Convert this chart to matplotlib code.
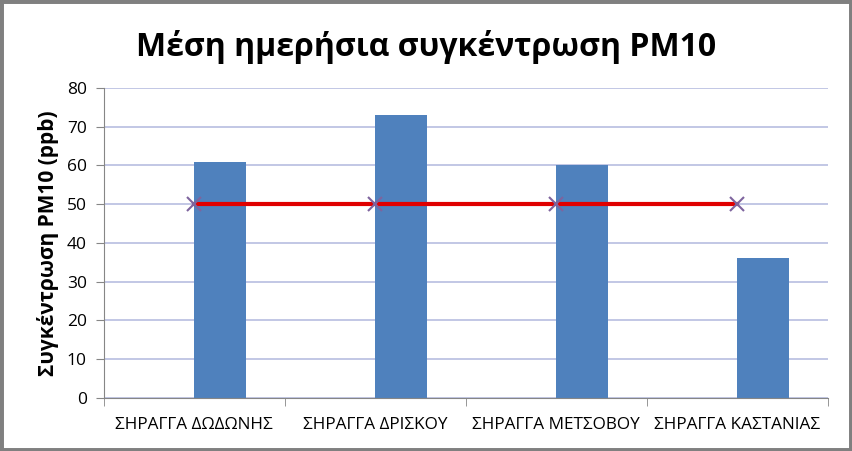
import numpy as np
import matplotlib.pyplot as plt
from matplotlib.patches import Rectangle

plt.rcParams['font.family'] = ['Open Sans', 'DejaVu Sans']

categories = ["ΣΗΡΑΓΓΑ ΔΩΔΩΝΗΣ", "ΣΗΡΑΓΓΑ ΔΡΙΣΚΟΥ", "ΣΗΡΑΓΓΑ ΜΕΤΣΟΒΟΥ", "ΣΗΡΑΓΓΑ ΚΑΣΤΑΝΙΑΣ"]
concentration = [61, 73, 60, 36]
limit = [50, 50, 50, 50]

fig = plt.figure(figsize=(8.52, 4.51), dpi=100)
ax = fig.add_axes([0.1215, 0.1175, 0.85, 0.6875])

x = np.arange(len(categories))
ax.bar(x, concentration, width=0.286, align='edge', color='#4F81BD', zorder=2)
ax.plot(x, limit, color='#E00000', linewidth=3, zorder=3)
ax.plot(x, limit, linestyle='none', marker='x', markersize=10.5, markeredgewidth=1.5,
        color='#7E649E', zorder=4)

ax.set_xlim(-0.5, 3.5)
ax.set_ylim(0, 80)
ax.set_yticks(range(0, 81, 10))
ax.yaxis.grid(True, color='#B7BDE0', linewidth=1.2, zorder=0)
ax.set_axisbelow(True)

ax.set_xticks(x)
ax.set_xticklabels(categories, fontsize=12.3)
ax.set_xticks(np.arange(-0.5, 4, 1), minor=True)
ax.tick_params(axis='x', which='major', length=0, pad=14)
ax.tick_params(axis='x', which='minor', length=6, color='#868686', direction='out')
ax.tick_params(axis='y', length=6, color='#868686', labelsize=12.5, pad=6)

for side in ['top', 'right']:
    ax.spines[side].set_visible(False)
for side in ['left', 'bottom']:
    ax.spines[side].set_color('#868686')

ax.set_ylabel("Συγκέντρωση PM10 (ppb)", fontsize=15, fontweight='bold', labelpad=6)
fig.text(0.50, 0.895, "Μέση ημερήσια συγκέντρωση PM10", ha='center', va='center',
         fontsize=23, fontweight='bold')

fig.patches.append(Rectangle((0, 0), 1, 1, transform=fig.transFigure, fill=False,
                             edgecolor='#808080', linewidth=5))

fig.savefig("out.png", dpi=100)
